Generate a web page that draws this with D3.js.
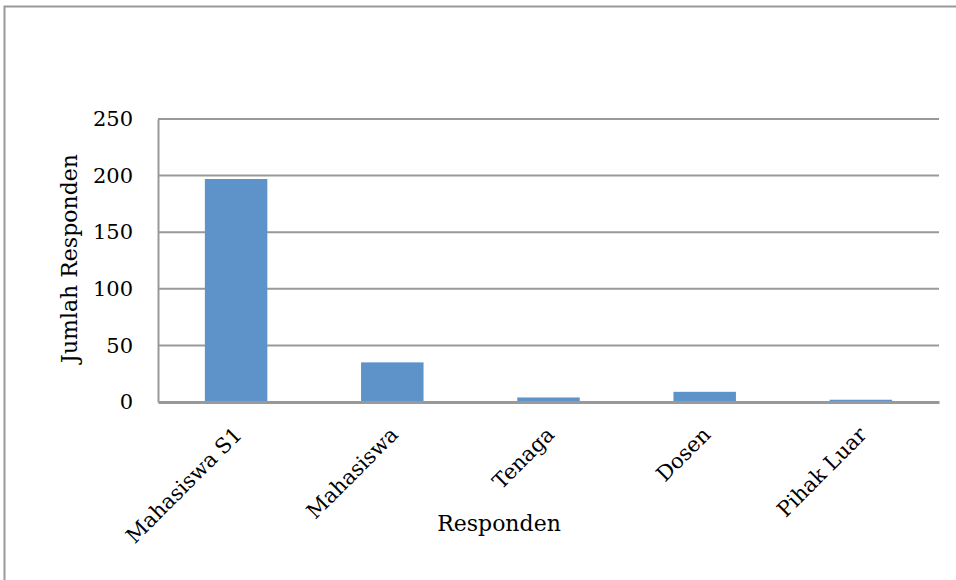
<!DOCTYPE html>
<html>
<head>
<meta charset="utf-8">
<script src="https://cdn.jsdelivr.net/npm/d3@7"></script>
<style>
  body { margin: 0; background: #fff; }
  text { font-family: "DejaVu Serif", "Liberation Serif", serif; fill: #000; }
</style>
</head>
<body>
<div id="chart"></div>
<script>
const categories = ["Mahasiswa S1", "Mahasiswa", "Tenaga", "Dosen", "Pihak Luar"];
const values = [197, 35, 4, 9, 2];
const yTicks = [0, 50, 100, 150, 200, 250];

const W = 956, H = 580;
const margin = { top: 119, right: 17, bottom: 178, left: 158 };
const width = W - margin.left - margin.right;
const height = H - margin.top - margin.bottom;
const font = '"DejaVu Serif", serif';

const root = d3.select('#chart')
    .append('svg')
    .attr('width', W)
    .attr('height', H);

// outer frame (right and bottom fall off the picture)
root.append('rect')
    .attr('x', 4.5)
    .attr('y', 6.5)
    .attr('width', W + 20)
    .attr('height', H + 20)
    .attr('fill', 'none')
    .attr('stroke', '#999')
    .attr('stroke-width', 2);

const svg = root.append('g')
    .attr('transform', `translate(${margin.left}, ${margin.top})`);

const x = d3.scaleBand()
    .domain(categories)
    .range([0, width])
    .paddingInner(0.6)
    .paddingOuter(0.3);

const y = d3.scaleLinear()
    .domain([0, 250])
    .range([height, 0]);

// gridlines
svg.append('g')
    .selectAll('line')
    .data(yTicks.filter(d => d > 0))
    .enter()
    .append('line')
    .attr('x1', 0)
    .attr('x2', width)
    .attr('y1', d => y(d))
    .attr('y2', d => y(d))
    .attr('stroke', '#999')
    .attr('stroke-width', 2);

svg.selectAll('.bar')
    .data(categories.map((c, i) => ({ name: c, value: values[i] })))
    .enter()
    .append('rect')
    .attr('class', 'bar')
    .attr('x', d => x(d.name))
    .attr('y', d => y(d.value))
    .attr('width', x.bandwidth())
    .attr('height', d => height - y(d.value))
    .attr('fill', '#5e93c9');

// y axis
const yAxis = svg.append('g')
    .call(d3.axisLeft(y).tickValues(yTicks).tickSize(0).tickPadding(25));
yAxis.select('.domain').attr('stroke', '#999').attr('stroke-width', 2);
yAxis.selectAll('text')
    .style('font-size', '21px')
    .style('font-family', font);

// x axis
const xAxis = svg.append('g')
    .attr('transform', `translate(0,${height})`)
    .call(d3.axisBottom(x).tickSize(0).tickPadding(0));
xAxis.select('.domain').attr('stroke', '#999').attr('stroke-width', 3);
xAxis.selectAll('text')
    .style('font-size', '21px')
    .style('font-family', font)
    .style('text-anchor', 'end')
    .attr('dy', 0)
    .attr('y', 0)
    .attr('transform', 'translate(7,34) rotate(-45)');

svg.append('text')
    .attr('transform', 'rotate(-90)')
    .attr('x', 0 - (height / 2) + 2)
    .attr('y', -81)
    .style('text-anchor', 'middle')
    .style('font-size', '22px')
    .style('font-family', font)
    .text('Jumlah Responden');

svg.append('text')
    .attr('x', 499 - margin.left)
    .attr('y', 531 - margin.top)
    .style('text-anchor', 'middle')
    .style('font-size', '22px')
    .style('font-family', font)
    .text('Responden');
</script>
</body>
</html>
